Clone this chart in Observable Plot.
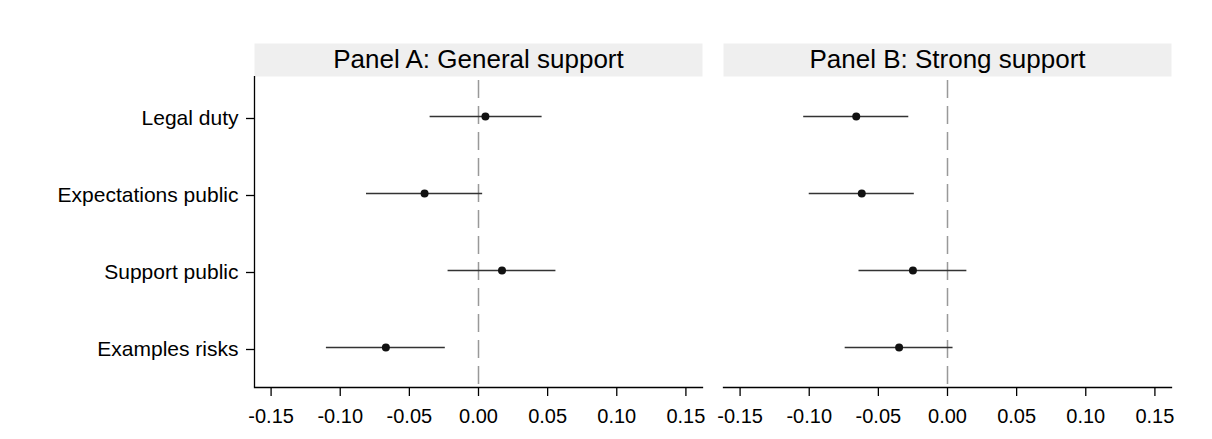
<!DOCTYPE html>
<html>
<head>
<meta charset="utf-8">
<script src="https://cdn.jsdelivr.net/npm/d3@7"></script>
<script src="https://cdn.jsdelivr.net/npm/@observablehq/plot@0.6"></script>
<style>
  html, body { margin: 0; padding: 0; background: #fff; }
  #chart svg { display: block; }
</style>
</head>
<body>
<div id="chart"></div>
<script>
const categories = ["Legal duty", "Expectations public", "Support public", "Examples risks"];
const panels = ["Panel A: General support", "Panel B: Strong support"];
const estA = [0.005, -0.039, 0.017, -0.067];
const loA  = [-0.035, -0.081, -0.022, -0.110];
const hiA  = [0.046, 0.003, 0.056, -0.024];
const estB = [-0.066, -0.062, -0.025, -0.035];
const loB  = [-0.104, -0.100, -0.064, -0.074];
const hiB  = [-0.028, -0.024, 0.014, 0.004];
const xTicks = [-0.15, -0.10, -0.05, 0, 0.05, 0.10, 0.15];
const xDomain = [-0.162, 0.162];
const zeroLine = [0];

const rows = [];
categories.forEach((c, i) => {
  rows.push({panel: panels[0], cat: c, est: estA[i], lo: loA[i], hi: hiA[i]});
  rows.push({panel: panels[1], cat: c, est: estB[i], lo: loB[i], hi: hiB[i]});
});

const font = "'Liberation Sans', Arial, Helvetica, sans-serif";
const headerH = 33;
const titleDy = -17;

const chart = Plot.plot({
  width: 1212,
  height: 439,
  marginLeft: 254,
  marginRight: 41,
  marginTop: 76,
  marginBottom: 52,
  style: {fontFamily: font, background: "#fff", color: "#000"},
  fx: {domain: panels, paddingInner: 0.045, paddingOuter: 0, axis: null},
  x: {domain: xDomain, axis: null},
  y: {type: "point", domain: categories, padding: 0.5, axis: null},
  marks: [
    Plot.text(panels, {
      fx: d => d, text: d => d, frameAnchor: "top", dy: titleDy,
      lineAnchor: "middle", fontSize: 26, fill: "#000",
      render: (index, scales, values, dims, context, next) => {
        const g = next(index, scales, values, dims, context);
        const x0 = scales.x(xDomain[0]), x1 = scales.x(xDomain[1]);
        const rect = document.createElementNS("http://www.w3.org/2000/svg", "rect");
        rect.setAttribute("x", x0);
        rect.setAttribute("width", x1 - x0);
        rect.setAttribute("y", dims.marginTop - headerH - titleDy);
        rect.setAttribute("height", headerH);
        rect.setAttribute("fill", "#efefef");
        g.insertBefore(rect, g.firstChild);
        return g;
      }
    }),
    Plot.ruleX(zeroLine, {x: d => d, stroke: "#999", strokeWidth: 1.5, strokeDasharray: "18,8", insetTop: 4}),
    Plot.frame({anchor: "bottom", stroke: "#000", strokeWidth: 1.3}),
    Plot.ruleX([panels[0]], {fx: d => d, x: () => xDomain[0], stroke: "#000", strokeWidth: 1.3}),
    Plot.ruleY(rows, {fx: "panel", y: "cat", x1: "lo", x2: "hi", stroke: "#333", strokeWidth: 1.6}),
    Plot.dot(rows, {fx: "panel", y: "cat", x: "est", r: 4, fill: "#111", stroke: null}),
    Plot.axisX({ticks: xTicks, tickFormat: d => d.toFixed(2), tickSize: 9, tickPadding: 12, fontSize: 20, stroke: "#000", strokeWidth: 1.3, label: null}),
    Plot.axisY({tickSize: 8, tickPadding: 8, fontSize: 21, dy: 2, stroke: "#000", strokeWidth: 1.3, label: null})
  ]
});
document.getElementById("chart").appendChild(chart);
</script>
</body>
</html>
